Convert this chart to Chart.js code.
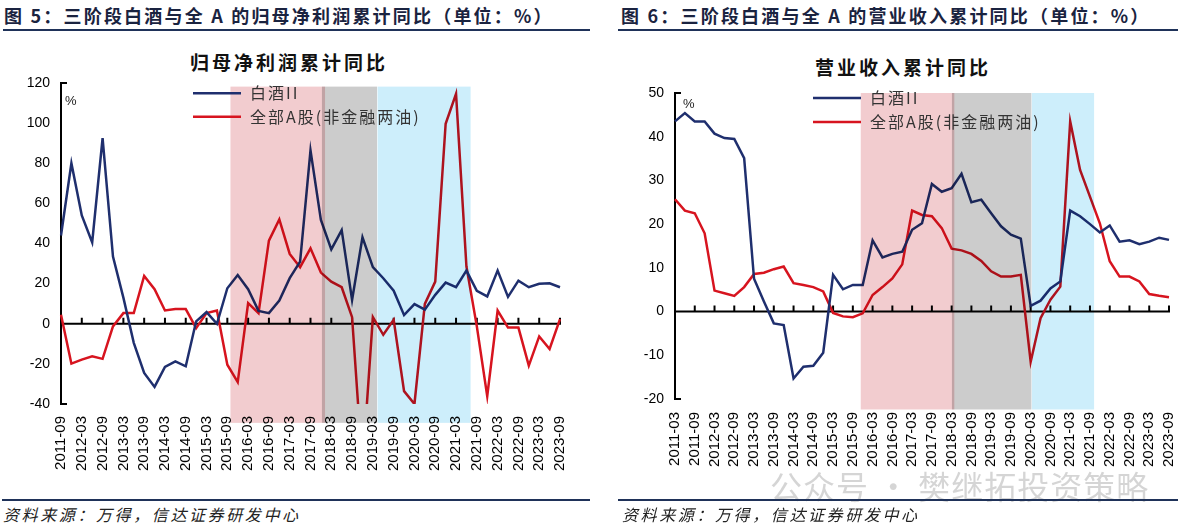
<!DOCTYPE html>
<html>
<head>
<meta charset="utf-8">
<script src="https://cdn.jsdelivr.net/npm/chart.js@4.4.1/dist/chart.umd.min.js"></script>
<style>
  body { margin: 0; width: 1178px; height: 525px; background: #fff; position: relative; overflow: hidden; font-family: "Noto Sans CJK SC", sans-serif; }
  .abs { position: absolute; white-space: nowrap; }
  .head { font-size: 18px; font-weight: bold; letter-spacing: 2.2px; color: #1a2340; line-height: 22px; top: 4px; }
  .rule { height: 2px; background: #1f3259; }
  .title { font-size: 19px; font-weight: bold; letter-spacing: 3px; color: #111; line-height: 24px; }
  .src { font-size: 16px; font-style: italic; letter-spacing: 2.6px; color: #222; line-height: 20px; top: 504px; }
  .wm { font-size: 32px; color: rgba(150,150,150,0.4); top: 462px; left: 770px; letter-spacing: 1px; }
  canvas { position: absolute; }
</style>
</head>
<body>
<div class="abs head" style="left:4px;">图 5：三阶段白酒与全 A 的归母净利润累计同比（单位：%）</div>
<div class="abs rule" style="left:3px; top:29px; width:587px;"></div>
<div class="abs head" style="left:621px;">图 6：三阶段白酒与全 A 的营业收入累计同比（单位：%）</div>
<div class="abs rule" style="left:618px; top:29px; width:560px;"></div>

<div class="abs title" style="left:190px; top:50px;">归母净利润累计同比</div>
<div class="abs title" style="left:815px; top:55px;">营业收入累计同比</div>

<canvas id="c1" width="595" height="450" style="left:0; top:40px;"></canvas>
<canvas id="c2" width="578" height="450" style="left:600px; top:40px;"></canvas>

<div class="abs wm">公众号 · 樊继拓投资策略</div>

<div class="abs rule" style="left:2px; top:499px; width:588px;"></div>
<div class="abs src" style="left:3px;">资料来源：万得，信达证券研发中心</div>
<div class="abs rule" style="left:618px; top:499px; width:560px;"></div>
<div class="abs src" style="left:622px;">资料来源：万得，信达证券研发中心</div>

<script>
// 季度（2011-03 ～ 2023-09）
const quarters = [
  "2011-03","2011-06","2011-09","2011-12",
  "2012-03","2012-06","2012-09","2012-12",
  "2013-03","2013-06","2013-09","2013-12",
  "2014-03","2014-06","2014-09","2014-12",
  "2015-03","2015-06","2015-09","2015-12",
  "2016-03","2016-06","2016-09","2016-12",
  "2017-03","2017-06","2017-09","2017-12",
  "2018-03","2018-06","2018-09","2018-12",
  "2019-03","2019-06","2019-09","2019-12",
  "2020-03","2020-06","2020-09","2020-12",
  "2021-03","2021-06","2021-09","2021-12",
  "2022-03","2022-06","2022-09","2022-12",
  "2023-03","2023-06","2023-09"
];
const profitQuarters = quarters.slice(2); // 2011-09 起

const seriesNames = ["白酒II", "全部A股(非金融两油)"];

// 图5 归母净利润累计同比 (%)
const profitBaijiu = [44, 80, 54, 40.5, 92.5, 33.5, 13, -9.5, -24.5, -31.5,
  -21.5, -18.8, -21.2, 1.2, 5.8, 0, 17.7, 24.3, 17.2, 6.4,
  5.3, 11.6, 22.7, 31, 86.4, 51.7, 37.1, 46.7, 11.9, 43.1,
  28.2, 22.7, 16.5, 4.3, 9.8, 7, 14.4, 20.5, 18.2, 26.5,
  16.4, 13.6, 26.5, 13.4, 21.5, 18.2, 19.9, 20.2, 18.2];
const profitAllA = [4.5, -19.9, -17.9, -16.2, -17.5, -1.3, 5.3, 5.3, 23.8, 17.2,
  6.6, 7.3, 7.3, -2.2, 5.3, 6.6, -20.4, -29.1, 10.3, 5.3,
  41.4, 52, 34.8, 28.2, 37.6, 25.5, 21, 18.2, 3.3, -72,
  3.3, -5.5, 2, -33.6, -40, 9.9, 21, 99.7, 114.6, 28.5,
  -1.3, -36.1, 6.6, -1.9, -1.9, -20.9, -6.3, -12.6, 2.3];

// 图6 营业收入累计同比 (%)
const revBaijiu = [43.5, 45.4, 43.5, 43.5, 40.7, 39.7, 39.5, 35.1, 7.5, 2.3,
  -2.7, -3.1, -15.3, -12.6, -12.4, -9.4, 8.4, 5.1, 6.1, 6.1,
  16.3, 12.4, 13.2, 13.7, 18.7, 20.2, 29.2, 27.4, 28.2, 31.5,
  25, 25.6, 22.5, 19.5, 17.6, 16.7, 1.3, 2.5, 5.3, 6.9,
  23.1, 21.8, 20, 18.1, 19.7, 16, 16.3, 15.4, 16, 16.9, 16.4];
const revAllA = [25.7, 23.1, 22.5, 17.9, 4.8, 4.2, 3.6, 5.6, 8.6, 8.9,
  9.7, 10.3, 6.5, 6.1, 5.6, 4.6, -0.3, -1.1, -1.3, -0.4,
  3.8, 5.6, 7.6, 10.8, 23.1, 22.1, 21.8, 19.1, 14.4, 14,
  13.2, 11.6, 9.2, 8, 8, 8.4, -11.5, -1.5, 2.7, 5.7,
  43.5, 32.4, 26.3, 20.2, 11.5, 8, 8, 6.9, 4, 3.6, 3.3];

// 三阶段区间（按季度序号，可为小数）[起, 止]
const profitStages = [[16.3, 25.4], [25.1, 30.4], [30.45, 39.4]];
const revStages = [[18.8, 28.27], [28.03, 36.07], [36.12, 42.42]];
const stageColors = ["#f2cccf", "#cccccc", "#cdeefb"];

Chart.defaults.font.family = "'Liberation Sans', Arial, sans-serif";
Chart.defaults.color = "#000";

// 阶段底色、零轴、图例等
const decor = {
  id: "decor",
  beforeDatasetsDraw(chart, args, o) {
    const ctx = chart.ctx, x = chart.scales.x, y = chart.scales.y, a = chart.chartArea;
    const y0 = y.getPixelForValue(0);
    ctx.save();
    ctx.strokeStyle = "#000";
    ctx.lineWidth = 2;
    ctx.beginPath();
    ctx.moveTo(a.left, y0); ctx.lineTo(a.right + 1, y0);
    for (let i = 2; i < chart.data.labels.length; i += 2) {
      const px = x.getPixelForValue(i);
      ctx.moveTo(px, y0); ctx.lineTo(px, y0 - 6);
    }
    // 纵轴两端短刻度
    ctx.moveTo(a.left, a.top); ctx.lineTo(a.left + 6, a.top);
    ctx.moveTo(a.left, a.bottom); ctx.lineTo(a.left + 6, a.bottom);
    ctx.stroke();
    ctx.restore();
  },
  afterDatasetsDraw(chart, args, o) {
    const ctx = chart.ctx, x = chart.scales.x, y = chart.scales.y;
    ctx.save();
    ctx.globalCompositeOperation = "multiply";
    o.stages.forEach((s, k) => {
      const x0 = x.getPixelForValue(s[0]), x1 = x.getPixelForValue(s[1]);
      const t = y.getPixelForValue(o.bandTop), b = y.getPixelForValue(o.bandBottom);
      ctx.fillStyle = stageColors[k];
      ctx.fillRect(x0, t, x1 - x0, b - t);
    });
    ctx.restore();
  },
  afterDraw(chart, args, o) {
    const ctx = chart.ctx, a = chart.chartArea;
    ctx.save();
    ctx.fillStyle = "#222";
    ctx.font = "13px 'Liberation Sans', Arial";
    ctx.textBaseline = "middle";
    ctx.fillText("%", a.left + o.pct[0], a.top + o.pct[1]);
    ctx.font = "16px 'Noto Sans CJK SC'";
    ctx.letterSpacing = "2px";
    chart.data.datasets.forEach((ds, k) => {
      const lx = a.left + o.legend[0], ly = a.top + o.legend[1] + k * o.legend[2];
      ctx.strokeStyle = ds.borderColor;
      ctx.lineWidth = 2.5;
      ctx.beginPath();
      ctx.moveTo(lx, ly); ctx.lineTo(lx + 48, ly);
      ctx.stroke();
      ctx.fillStyle = "#333";
      ctx.fillText(ds.label, lx + 57, ly);
    });
    ctx.restore();
  }
};

function makeChart(id, labels, blue, red, yMin, yMax, step, pad, yWidth, xHeight, xPad, deco) {
  return new Chart(document.getElementById(id), {
    type: "line",
    data: {
      labels: labels,
      datasets: [
        { label: seriesNames[0], data: blue, borderColor: "#1f2f6e", borderWidth: 2.5, pointRadius: 0, tension: 0 },
        { label: seriesNames[1], data: red, borderColor: "#d7141f", borderWidth: 2.5, pointRadius: 0, tension: 0 }
      ]
    },
    options: {
      responsive: false,
      animation: false,
      layout: { padding: pad },
      plugins: { legend: { display: false }, tooltip: { enabled: false }, decor: deco },
      scales: {
        x: {
          grid: { display: false, drawTicks: false },
          border: { display: false },
          afterFit: s => { s.height = xHeight; s.paddingLeft = 0; s.paddingRight = 0; },
          ticks: {
            autoSkip: false, maxRotation: 90, minRotation: 90, padding: xPad,
            font: { size: 15 }, color: "#000",
            callback: function (v, i) { return i % 2 === 0 ? this.getLabelForValue(v) : ""; }
          }
        },
        y: {
          min: yMin, max: yMax,
          grid: { display: false, drawTicks: false },
          border: { display: true, color: "#000", width: 2 },
          afterFit: s => { s.width = yWidth; },
          ticks: { stepSize: step, padding: 11, font: { size: 14 }, color: "#000" }
        }
      }
    },
    plugins: [decor]
  });
}

makeChart("c1", profitQuarters, profitBaijiu, profitAllA, -40, 120, 20,
  { left: 0, top: 43, right: 35, bottom: 0 }, 61, 86, 12,
  { stages: profitStages, bandTop: 118.2, bandBottom: -49.4, pct: [4, 18], legend: [132, 10.3, 23.4] });

makeChart("c2", quarters, revBaijiu, revAllA, -20, 50, 10,
  { left: 0, top: 53, right: 9, bottom: 0 }, 75, 91, 13,
  { stages: revStages, bandTop: 50, bandBottom: -22.4, pct: [8, 11], legend: [138, 5, 24] });
</script>
</body>
</html>
